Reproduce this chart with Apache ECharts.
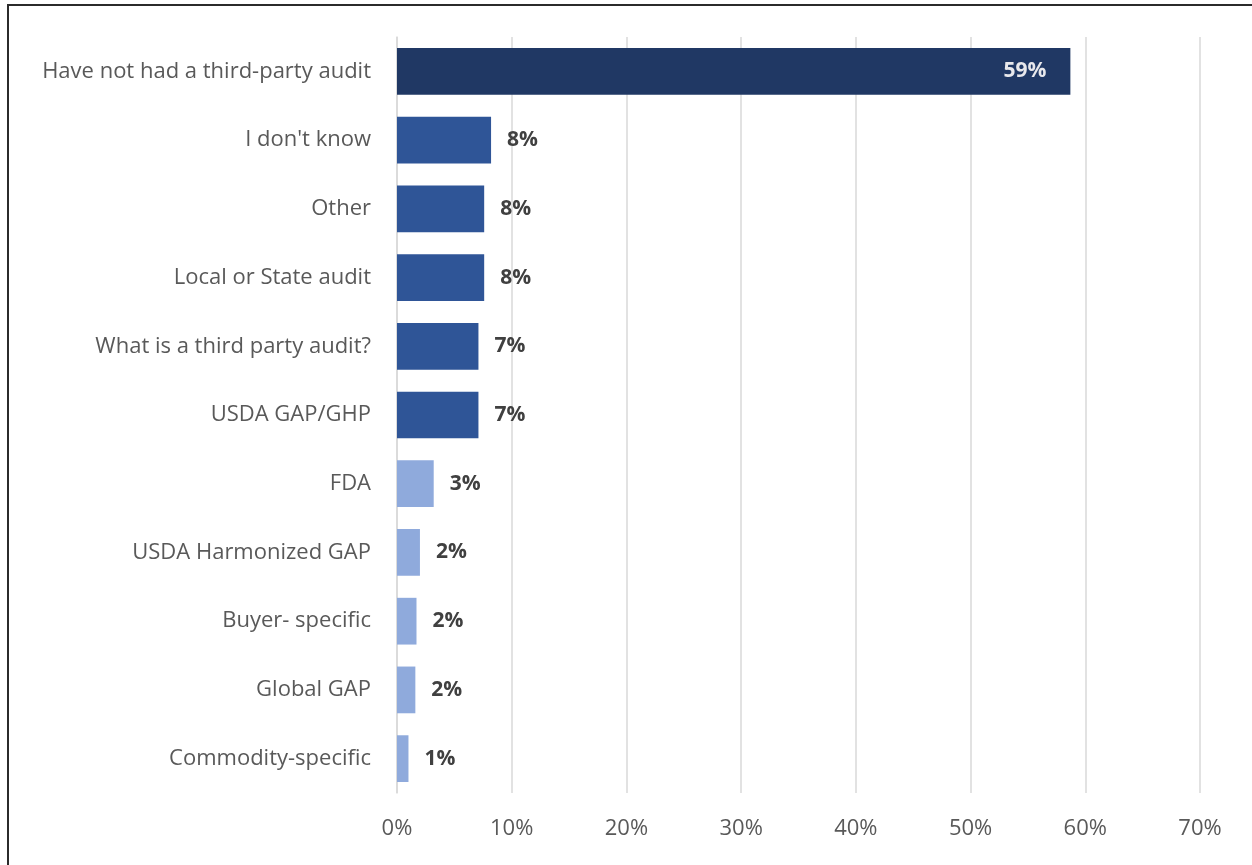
<!DOCTYPE html>
<html>
<head>
<meta charset="utf-8">
<style>
  html, body { margin: 0; padding: 0; background: #fff; }
  #frame { position: absolute; left: 7px; top: 4px; width: 1245px; height: 861px;
           border-left: 2px solid #2b2b2b; border-top: 2px solid #2b2b2b; box-sizing: border-box; }
  #chart { position: absolute; left: 0; top: 0; width: 1252px; height: 865px; }
</style>
<script src="https://cdn.jsdelivr.net/npm/echarts@6/dist/echarts.min.js"></script>
</head>
<body>
<div id="frame"></div>
<div id="chart"></div>
<script>
// Types of third-party audits reported (% of respondents)
const categories = [
  "Have not had a third-party audit",
  "I don't know",
  "Other",
  "Local or State audit",
  "What is a third party audit?",
  "USDA GAP/GHP",
  "FDA",
  "USDA Harmonized GAP",
  "Buyer- specific",
  "Global GAP",
  "Commodity-specific"
];
const percentValues = [58.7, 8.2, 7.6, 7.6, 7.1, 7.1, 3.2, 2.0, 1.7, 1.6, 1.0];
const axisTicks = [0, 10, 20, 30, 40, 50, 60, 70];

const FONT = "Open Sans";
const chart = echarts.init(document.getElementById("chart"), null, { renderer: "canvas" });

function barColor(i) {
  if (i === 0) return "#203864";
  if (i <= 5) return "#2f5597";
  return "#8faadc";
}

// The leading bar carries its label inside, near the end
const barData = percentValues.map((v, i) => i === 0
  ? { value: v, label: { position: "insideRight", distance: 24, color: "#e8e8ec" } }
  : v);

chart.setOption({
  animation: false,
  textStyle: { fontFamily: FONT },
  grid: { left: 397, right: 52, top: 37, bottom: 72, containLabel: false },
  xAxis: {
    type: "value",
    min: axisTicks[0],
    max: axisTicks[axisTicks.length - 1],
    interval: 10,
    axisLine: { show: false },
    axisTick: { show: false },
    splitLine: { show: true, lineStyle: { color: "#d9d9d9", width: 1.5 } },
    axisLabel: {
      formatter: v => v + "%",
      color: "#595959",
      fontSize: 22,
      fontFamily: FONT,
      margin: 25
    }
  },
  yAxis: {
    type: "category",
    data: categories,
    inverse: true,
    axisLine: { show: true, lineStyle: { color: "#d9d9d9", width: 1.5 } },
    axisTick: { show: false },
    axisLabel: {
      color: "#595959",
      fontSize: 22,
      fontFamily: FONT,
      margin: 26
    }
  },
  series: [{
    type: "bar",
    data: barData,
    barCategoryGap: "32%",
    itemStyle: { color: p => barColor(p.dataIndex) },
    label: {
      show: true,
      position: "right",
      distance: 16,
      fontFamily: FONT,
      fontWeight: "bold",
      fontSize: 21,
      color: "#404040",
      formatter: p => Math.round(p.value) + "%"
    }
  }]
});
</script>
</body>
</html>
